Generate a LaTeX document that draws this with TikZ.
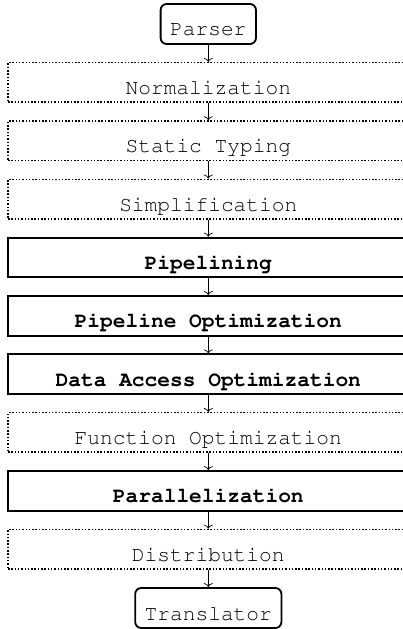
\documentclass[tikz,border=0pt]{standalone}
\usetikzlibrary{arrows.meta}
% Courier (URW Nimbus Mono) for all stage labels
\newcommand\stagefont{\fontencoding{T1}\fontfamily{pcr}\fontsize{21.2}{24}\selectfont}
\begin{document}
\begin{tikzpicture}[x=1pt,y=1pt,
  stage/.style={rectangle, minimum width=400.6pt, minimum height=39.5pt,
    inner sep=0pt, text height=24pt, text depth=0pt, font=\stagefont},
  optional/.style={stage, draw, line width=1.5pt, dash pattern=on 1.5pt off 1.8pt},
  core/.style={stage, draw, line width=2pt, font=\stagefont\bfseries},
  endpoint/.style={stage, draw, rounded corners=6pt, line width=1.8pt,
    minimum width=0pt, minimum height=40pt, inner xsep=9.5pt},
  flow/.style={-{To[length=4pt,width=9pt]}, line width=0.7pt}]
\clip (0,0) rectangle (403,629);

% compiler stages, top to bottom
\node[endpoint] (parser)  at (208.3,605)    {Parser};
\node[optional] (norm)    at (208.3,546.6)  {Normalization};
\node[optional] (typing)  at (208.3,488.25) {Static Typing};
\node[optional] (simpl)   at (208.3,429.9)  {Simplification};
\node[core]     (pipe)    at (208.3,371.55) {Pipelining};
\node[core]     (pipeopt) at (208.3,313.2)  {Pipeline Optimization};
\node[core]     (access)  at (208.3,254.85) {Data Access Optimization};
\node[optional] (func)    at (208.3,196.5)  {Function Optimization};
\node[core]     (par)     at (208.3,138.15) {Parallelization};
\node[optional] (dist)    at (208.3,79.8)   {Distribution};
\node[endpoint] (trans)   at (208.3,21)     {Translator};

% control flow between stages
\foreach \a/\b in {parser/norm, norm/typing, typing/simpl, simpl/pipe,
    pipe/pipeopt, pipeopt/access, access/func, func/par, par/dist, dist/trans}
  \draw[flow] (\a) -- (\b);
\end{tikzpicture}
\end{document}
